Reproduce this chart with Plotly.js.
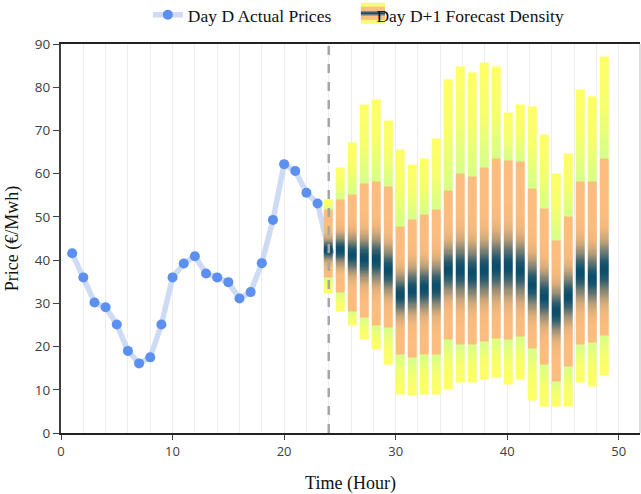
<!DOCTYPE html>
<html>
<head>
<meta charset="utf-8">
<script src="https://cdn.plot.ly/plotly-3.0.1.min.js"></script>
<style>html,body{margin:0;padding:0;background:#fff;}#chart{width:641px;height:494px;}</style>
</head>
<body>
<div id="chart"></div>
<script>
// ---- Day D actual prices ----
var hoursD = [1,2,3,4,5,6,7,8,9,10,11,12,13,14,15,16,17,18,19,20,21,22,23,24];
var actualPrices = [41.6,36.0,30.2,29.1,25.1,19.0,16.1,17.5,25.1,36.0,39.2,40.9,36.9,36.0,34.9,31.1,32.6,39.3,49.3,62.2,60.6,55.6,53.1,42.0];

// ---- Day D+1 forecast density (per hour) ----
var hoursF = [25,26,27,28,29,30,31,32,33,34,35,36,37,38,39,40,41,42,43,44,45,46,47,48];
var fHigh  = [54.1,61.4,67.2,76.0,77.0,72.4,65.5,62.0,63.6,68.0,81.8,84.9,83.4,85.7,84.9,74.0,76.0,75.5,69.0,60.2,64.7,79.4,77.8,87.1];
var fUpper = [51.6,54.1,55.1,57.6,58.2,57.0,47.8,49.3,50.5,51.6,56.2,60.2,59.3,61.3,63.6,63.2,62.8,56.6,51.8,44.7,50.1,58.2,58.2,63.6];
var fMed   = [42.4,42.4,41.2,40.4,40.1,37.7,32.0,33.1,33.5,33.9,37.7,37.7,37.0,37.7,38.5,38.5,37.7,34.3,31.6,28.1,31.6,37.0,35.8,37.7];
var fLower = [35.8,32.7,28.1,26.6,24.8,24.3,18.1,17.3,18.1,18.1,21.6,20.4,20.4,21.2,22.0,21.6,22.3,19.6,15.8,11.9,15.4,20.4,20.8,22.7];
var fLow   = [32.4,28.1,24.8,21.6,19.3,15.8,8.9,8.6,8.9,8.9,10.2,11.7,11.6,12.3,12.9,11.2,12.3,7.7,6.2,6.2,6.2,11.6,10.8,13.5];

var xTickVals = [0,10,20,30,40,50];
var yTickVals = [0,10,20,30,40,50,60,70,80,90];

// density grid for the heatmap rendering
var yStep = 0.25;
var yGrid = [];
for (var v = 0; v <= 90.0001; v += yStep) yGrid.push(Math.round(v*100)/100);
var zGrid = yGrid.map(function(y){
  return hoursF.map(function(h, i){
    var hi = fHigh[i], up = fUpper[i], md = fMed[i], lw = fLower[i], lo = fLow[i];
    if (y < lo || y > hi) return null;
    if (y > up) return 0.2*(hi - y)/(hi - up);
    if (y < lw) return 0.2*(y - lo)/(lw - lo);
    var s = 0.14*(up - lw);
    var d = (y - md)/s;
    return 0.3 + 0.7*Math.exp(-d*d);
  });
});

var traces = [
  {
    type: 'scatter', mode: 'lines+markers', name: 'Day D Actual Prices',
    x: hoursD, y: actualPrices, xaxis: 'x', yaxis: 'y',
    line: {color: 'rgba(185,204,240,0.7)', width: 5.5},
    marker: {color: '#5b8ff0', size: 10},
    hoverinfo: 'x+y'
  },
  {
    type: 'heatmap', name: 'Day D+1 Forecast Density', showlegend: false,
    x: hoursF, y: yGrid, z: zGrid, xaxis: 'x2', yaxis: 'y',
    zmin: 0, zmax: 1, showscale: false, xgap: 3,
    colorscale: [[0,'#ffff66'],[0.1,'#f6ff6c'],[0.2,'#d6ff8a'],[0.201,'#fcbd7e'],[0.3,'#fcbd7e'],[1,'#0b4d6b']],
    hoverinfo: 'skip'
  },
  {
    type: 'scatter', mode: 'markers', name: 'Day D+1 Forecast Density',
    x: [null], y: [null], xaxis: 'x', yaxis: 'y',
    marker: {symbol: 'square', size: 1, color: 'rgba(0,0,0,0)'}
  }
];

var layout = {
  width: 641, height: 494,
  margin: {l: 61, r: 1, t: 44, b: 61},
  paper_bgcolor: '#ffffff', plot_bgcolor: '#ffffff',
  showlegend: true,
  legend: {
    orientation: 'h', x: 0.15, xanchor: 'left', yref: 'container', y: 0.97, yanchor: 'middle',
    font: {family: 'Liberation Serif, Times New Roman, serif', size: 17.5, color: '#111'},
    bgcolor: 'rgba(0,0,0,0)'
  },
  xaxis: {
    range: [0, 51.9], tickvals: xTickVals, ticks: 'outside', ticklen: 5, tickcolor: '#404040',
    showline: true, linecolor: '#222', linewidth: 2, mirror: true,
    showgrid: true, gridcolor: '#ededed', gridwidth: 1,
    minor: {dtick: 2, showgrid: true, gridcolor: '#ededed', gridwidth: 1},
    zeroline: false,
    tickfont: {family: 'Open Sans, sans-serif', size: 13, color: '#404040'},
    title: {text: 'Time (Hour)', font: {family: 'Liberation Serif, Times New Roman, serif', size: 18, color: '#111'}, standoff: 18}
  },
  xaxis2: {
    overlaying: 'x', anchor: 'y', range: [2.66, 50.98], visible: false, showgrid: false, zeroline: false
  },
  yaxis: {
    range: [0, 90], tickvals: yTickVals, ticks: 'outside', ticklen: 6, tickcolor: '#404040',
    showline: true, linecolor: '#404040', linewidth: 2, showgrid: false, zeroline: false,
    tickfont: {family: 'Open Sans, sans-serif', size: 13.5, color: '#404040'},
    title: {text: 'Price (€/Mwh)', font: {family: 'Liberation Serif, Times New Roman, serif', size: 18, color: '#111'}, standoff: 12}
  },
  shapes: [
    {type: 'line', xref: 'x', yref: 'paper', x0: 24, x1: 24, y0: 0, y1: 1, layer: 'above',
     line: {color: '#a6a6a6', width: 2.5, dash: 'dash'}},
    {type: 'line', xref: 'paper', yref: 'paper', x0: 1, x1: 1, y0: 0, y1: 1, layer: 'above',
     line: {color: '#bdbdbd', width: 1}},
    // legend icon for the forecast density
    {type: 'rect', xref: 'paper', yref: 'paper', x0: 0.518, x1: 0.5596, y0: 1.052, y1: 1.106, layer: 'above',
     fillcolor: '#f4ff72', line: {width: 0}},
    {type: 'rect', xref: 'paper', yref: 'paper', x0: 0.518, x1: 0.5596, y0: 1.062, y1: 1.096, layer: 'above',
     fillcolor: '#fbbf80', line: {width: 0}},
    {type: 'rect', xref: 'paper', yref: 'paper', x0: 0.518, x1: 0.5596, y0: 1.073, y1: 1.085, layer: 'above',
     fillcolor: '#8a8a84', line: {width: 0}},
    {type: 'rect', xref: 'paper', yref: 'paper', x0: 0.518, x1: 0.5596, y0: 1.0764, y1: 1.0816, layer: 'above',
     fillcolor: '#1d4e68', line: {width: 0}}
  ]
};

Plotly.newPlot('chart', traces, layout, {displayModeBar: false, staticPlot: true});
</script>
</body>
</html>
